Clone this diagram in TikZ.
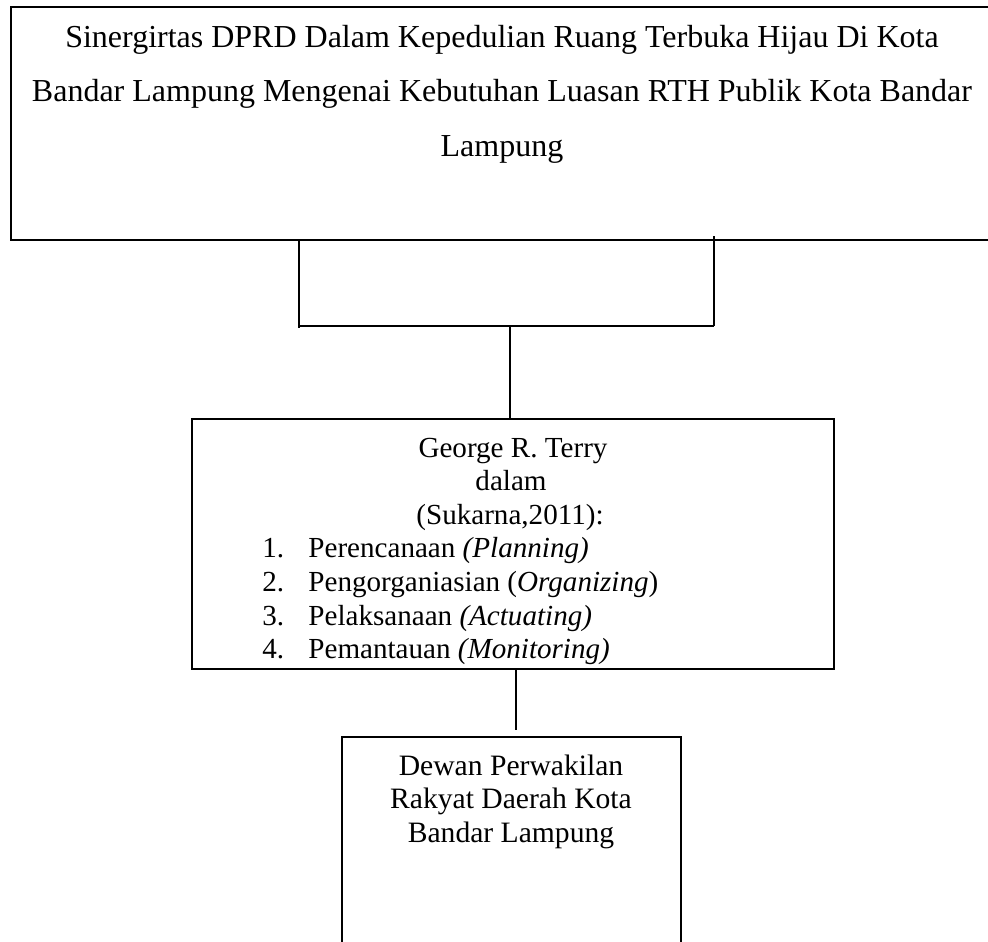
\documentclass[tikz,border=0pt]{standalone}
\usepackage{fontspec}
\setmainfont{Liberation Serif}
\begin{document}
\begin{tikzpicture}[x=0.5pt,y=-0.5pt,
  boxline/.style={draw=black,line width=1.1pt},
  frame/.style={boxline,rectangle,inner sep=0pt},
  conn/.style={draw=black,line width=1pt},
  toptxt/.style={inner sep=0pt,anchor=base,font=\fontsize{16pt}{18pt}\selectfont},
  midtxt/.style={inner sep=0pt,font=\fontsize{14.55pt}{16.8pt}\selectfont},
  bottxt/.style={inner sep=0pt,anchor=base,font=\fontsize{14.8pt}{17pt}\selectfont}]
\useasboundingbox (0,0) rectangle (988,941);
% boxes
\node[frame,minimum width=491pt,minimum height=116.5pt] (top) at (502,123.5) {};
\node[frame,minimum width=321pt,minimum height=125pt,line width=1pt] (mid) at (513,544) {};
\node[frame,minimum width=169.5pt,minimum height=111.5pt] (bot) at (511.5,848.5) {};
% top text
\node[toptxt] (t1) at (502,48) {Sinergirtas DPRD Dalam Kepedulian Ruang Terbuka Hijau Di Kota};
\node[toptxt] (t2) at (502,102) {Bandar Lampung Mengenai Kebutuhan Luasan RTH Publik Kota Bandar};
\node[toptxt] (t3) at (502,156) {Lampung};
% middle text
\node[midtxt,anchor=base] (m1) at (513,457) {George R. Terry};
\node[midtxt,anchor=base] (m2) at (511,490.6) {dalam};
\node[midtxt,anchor=base] (m3) at (510,524.2) {(Sukarna,2011):};
\node[midtxt,anchor=base west] (n1) at (262,557.8) {1.};
\node[midtxt,anchor=base west] (n2) at (262,591.4) {2.};
\node[midtxt,anchor=base west] (n3) at (262,625) {3.};
\node[midtxt,anchor=base west] (n4) at (262,658.6) {4.};
\node[midtxt,anchor=base west] (i1) at (308,557.8) {Perencanaan \textit{(Planning)}};
\node[midtxt,anchor=base west] (i2) at (308,591.4) {Pengorganiasian (\textit{Organizing})};
\node[midtxt,anchor=base west] (i3) at (308,625) {Pelaksanaan \textit{(Actuating)}};
\node[midtxt,anchor=base west] (i4) at (308,658.6) {Pemantauan \textit{(Monitoring)}};
% bottom text
\node[bottxt] (b1) at (511,775) {Dewan Perwakilan};
\node[bottxt] (b2) at (511,808.5) {Rakyat Daerah Kota};
\node[bottxt] (b3) at (511,842) {Bandar Lampung};
% connectors
\coordinate (jl) at (299,328);
\coordinate (jr) at (714,326);
\coordinate (jc) at (510,326);
\coordinate (lo) at (516,730);
\draw[conn] (top.south -| jl) -- (jl);
\draw[conn] ([yshift=2.5pt]top.south -| jr) -- (jr);
\draw[conn] (jl |- jr) -- (jr);
\draw[conn] (jc) -- (mid.north -| jc);
\draw[conn] (mid.south -| lo) -- (lo);
\end{tikzpicture}
\end{document}
